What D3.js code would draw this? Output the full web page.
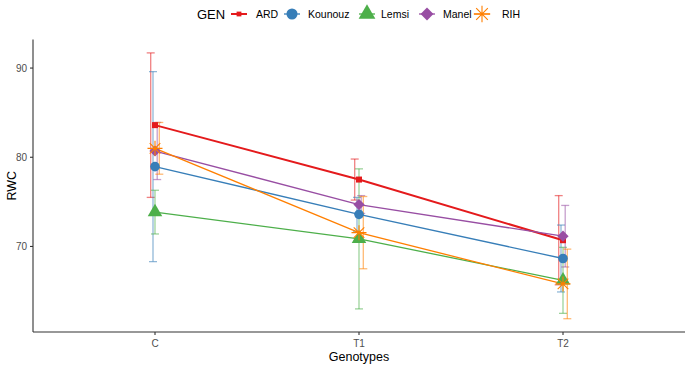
<!DOCTYPE html>
<html>
<head>
<meta charset="utf-8">
<script src="https://cdn.jsdelivr.net/npm/d3@7"></script>
<style>
  body { margin: 0; background: #fff; }
  svg { display: block; font-family: "Liberation Sans", Arial, sans-serif; }
</style>
</head>
<body>
<div id="chart"></div>
<script>
// data
const treatments = ["C", "T1", "T2"];
const genotypes = ["ARD", "Kounouz", "Lemsi", "Manel", "RIH"];
const colors = ["#E41A1C", "#377EB8", "#4DAF4A", "#984EA3", "#FF7F00"];

const meanARD = [83.6, 77.5, 70.7];
const errARD = [8.1, 2.3, 5.0];
const meanKounouz = [78.95, 73.6, 68.65];
const errKounouz = [10.65, 1.9, 3.75];
const meanLemsi = [73.85, 70.85, 66.2];
const errLemsi = [2.45, 7.85, 3.7];
const meanManel = [80.7, 74.7, 71.15];
const errManel = [3.2, 1.0, 3.45];
const meanRIH = [81.0, 71.55, 65.8];
const errRIH = [2.9, 4.05, 3.9];

const yTicks = [70, 80, 90];

const means = [meanARD, meanKounouz, meanLemsi, meanManel, meanRIH];
const errs = [errARD, errKounouz, errLemsi, errManel, errRIH];

const W = 685, H = 365;
const PANEL = { left: 33, right: 685, top: 39.6, bottom: 332 };
const dodge = [-4.3, -2, 0, 2.2, 4.3];

const svg = d3.select("#chart").append("svg")
  .attr("width", W).attr("height", H);

const x = d3.scalePoint().domain(treatments).range([155, 563]);
const y = d3.scaleLinear().domain([60.41, 93.19]).range([PANEL.bottom, PANEL.top]);
const color = d3.scaleOrdinal().domain(genotypes).range(colors);

// series table
const series = genotypes.map((g, i) => ({
  name: g,
  idx: i,
  values: treatments.map((t, j) => ({ t, m: means[i][j], e: errs[i][j] }))
}));

// shapes (R pch style)
function drawShape(g, name, cx, cy, s) {
  const c = color(name);
  if (name === "ARD") {
    const a = 6 * s;
    g.append("rect").attr("x", cx - a / 2).attr("y", cy - a / 2)
      .attr("width", a).attr("height", a).attr("fill", c);
  } else if (name === "Kounouz") {
    g.append("circle").attr("cx", cx).attr("cy", cy).attr("r", 4.8 * s).attr("fill", c);
  } else if (name === "Lemsi") {
    const r = 5.4 * s;
    const t0 = Math.sqrt(4 * Math.PI / (3 * Math.sqrt(3)));
    const t1 = t0 * Math.sqrt(3) / 2, t2 = t0 / 2;
    g.append("path")
      .attr("d", `M${cx},${cy - r * t0}L${cx + r * t1},${cy + r * t2}L${cx - r * t1},${cy + r * t2}Z`)
      .attr("fill", c);
  } else if (name === "Manel") {
    const r = 5.6 * s;
    g.append("path")
      .attr("d", `M${cx},${cy - r}L${cx + r},${cy}L${cx},${cy + r}L${cx - r},${cy}Z`)
      .attr("fill", c);
  } else {
    const r = 7.5 * s;
    const d = r * Math.SQRT1_2;
    g.append("path")
      .attr("d", `M${cx - r},${cy}H${cx + r}M${cx},${cy - r}V${cy + r}` +
        `M${cx - d},${cy - d}L${cx + d},${cy + d}M${cx - d},${cy + d}L${cx + d},${cy - d}`)
      .attr("stroke", c).attr("stroke-width", 1.1).attr("fill", "none");
  }
}

// axes
const axisCol = "#333333";
const tickCol = "#4D4D4D";

const gy = svg.append("g").attr("transform", `translate(${PANEL.left},0)`);
gy.append("line").attr("x1", 0).attr("x2", 0).attr("y1", PANEL.top).attr("y2", PANEL.bottom)
  .attr("stroke", axisCol).attr("stroke-width", 1.1);
yTicks.forEach(v => {
  gy.append("line").attr("x1", -3).attr("x2", 0).attr("y1", y(v)).attr("y2", y(v))
    .attr("stroke", axisCol).attr("stroke-width", 1.1);
  gy.append("text").attr("x", -6).attr("y", y(v)).attr("dy", "0.35em")
    .attr("text-anchor", "end").attr("font-size", 10).attr("fill", tickCol).text(v);
});

const gx = svg.append("g").attr("transform", `translate(0,${PANEL.bottom})`);
gx.append("line").attr("x1", PANEL.left).attr("x2", PANEL.right).attr("y1", 0).attr("y2", 0)
  .attr("stroke", axisCol).attr("stroke-width", 1.1);
treatments.forEach(t => {
  gx.append("line").attr("x1", x(t)).attr("x2", x(t)).attr("y1", 0).attr("y2", 3)
    .attr("stroke", axisCol).attr("stroke-width", 1.1);
  gx.append("text").attr("x", x(t)).attr("y", 11).attr("dy", "0.35em")
    .attr("text-anchor", "middle").attr("font-size", 10).attr("fill", tickCol).text(t);
});

svg.append("text").attr("x", (PANEL.left + PANEL.right) / 2 - 0).attr("y", 361)
  .attr("text-anchor", "middle").attr("font-size", 12.5).attr("fill", "#000").text("Genotypes");
svg.append("text")
  .attr("transform", `translate(16,${(PANEL.top + PANEL.bottom) / 2}) rotate(-90)`)
  .attr("text-anchor", "middle").attr("font-size", 12.5).attr("fill", "#000").text("RWC");

// error bars
const gErr = svg.append("g");
series.forEach(s => {
  s.values.forEach(v => {
    const cx = x(v.t) + dodge[s.idx];
    const g = gErr.append("g").attr("stroke", color(s.name))
      .attr("stroke-opacity", 0.55).attr("stroke-width", 1.3);
    g.append("line").attr("x1", cx).attr("x2", cx).attr("y1", y(v.m + v.e)).attr("y2", y(v.m - v.e));
    g.append("line").attr("x1", cx - 4).attr("x2", cx + 4).attr("y1", y(v.m + v.e)).attr("y2", y(v.m + v.e));
    g.append("line").attr("x1", cx - 4).attr("x2", cx + 4).attr("y1", y(v.m - v.e)).attr("y2", y(v.m - v.e));
  });
});

// lines
const line = d3.line().x(d => x(d.t)).y(d => y(d.m));
svg.append("g").selectAll("path").data(series).join("path")
  .attr("d", d => line(d.values))
  .attr("fill", "none")
  .attr("stroke", d => color(d.name))
  .attr("stroke-width", d => d.name === "ARD" ? 2 : 1.3);

// points
const gPts = svg.append("g");
series.forEach(s => {
  s.values.forEach(v => drawShape(gPts, s.name, x(v.t), y(v.m), 1));
});

// legend
const leg = svg.append("g").attr("transform", "translate(0,14)");
leg.append("text").attr("x", 197).attr("y", 0).attr("dy", "0.35em")
  .attr("font-size", 13).attr("fill", "#000").text("GEN");
const keyX = [239, 292, 367, 427, 482];
const labX = [256, 308, 381, 443, 502];
genotypes.forEach((g, i) => {
  leg.append("line").attr("x1", keyX[i] - 8).attr("x2", keyX[i] + 8).attr("y1", 0).attr("y2", 0)
    .attr("stroke", color(g)).attr("stroke-width", g === "ARD" ? 2 : 1.3);
  drawShape(leg, g, keyX[i], 0, g === "ARD" ? 0.8 : (g === "RIH" ? 1.1 : 1.15));
  leg.append("text").attr("x", labX[i]).attr("y", 0).attr("dy", "0.35em")
    .attr("font-size", 10.5).attr("fill", "#000").text(g);
});
</script>
</body>
</html>
